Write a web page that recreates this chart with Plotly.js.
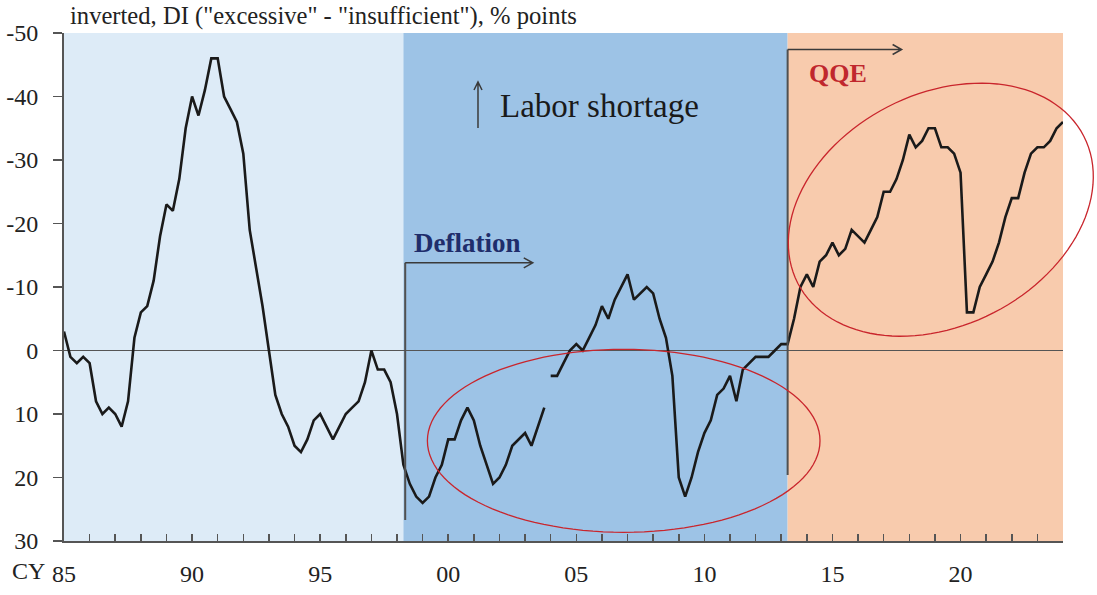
<!DOCTYPE html>
<html>
<head>
<meta charset="utf-8">
<script src="https://cdn.plot.ly/plotly-3.0.1.min.js"></script>
<style>
  body { margin: 0; background: #fff; }
  #plot { width: 1097px; height: 595px; }
</style>
</head>
<body>
<div id="plot"></div>
<script>
// Tankan employment conditions DI, quarterly, inverted axis
// old survey basis: 1985Q1 - 2003Q4
const oldStart = 1985;
const oldBasis = [
  -3, 1, 2, 1, 2, 8, 10, 9, 10, 12, 8, -2, -6, -7, -11, -18,
  -23, -22, -27, -35, -40, -37, -41, -46, -46, -40, -38, -36, -31, -19,
  -13, -7, 0, 7, 10, 12, 15, 16, 14, 11, 10, 12, 14, 12, 10, 9,
  8, 5, 0, 3, 3, 5, 10, 18, 21, 23, 24, 23, 20, 18, 14, 14,
  11, 9, 11, 15, 18, 21, 20, 18, 15, 14, 13, 15, 12, 9
];
// new survey basis: 2004Q1 - 2024Q1
const newStart = 2004;
const newBasis = [
  4, 4, 2, 0, -1, 0, -2, -4, -7, -5, -8, -10, -12, -8, -9, -10,
  -9, -5, -2, 4, 20, 23, 20, 16, 13, 11, 7, 6, 4, 8, 3, 2,
  1, 1, 1, 0, -1, -1, -5, -10, -12, -10, -14, -15, -17, -15, -16, -19,
  -18, -17, -19, -21, -25, -25, -27, -30, -34, -32, -33, -35, -35, -32, -32, -31,
  -28, -6, -6, -10, -12, -14, -17, -21, -24, -24, -28, -31, -32, -32, -33, -35,
  -36
];

const yTicks = [-50, -40, -30, -20, -10, 0, 10, 20, 30];
const yTickText = ['-50', '-40', '-30', '-20', '-10', '0', '10', '20', '30'];

const tickYears = [];
const tickText = [];
for (let yr = 1985; yr <= 2024; yr++) {
  tickYears.push(yr);
  tickText.push(yr % 5 === 0 && yr < 2024 ? String(yr).slice(2) : '');
}

// periods (1998Q2 deflation, 2013Q2 QQE)
const deflationStart = 1998.25;
const qqeStart = 2013.25;

function quarters(start, n) {
  const out = [];
  for (let i = 0; i < n; i++) out.push(start + i / 4);
  return out;
}

// plot box in pixels, used for the hand-drawn arrows and ellipses
const L = 64, T = 33, W = 999, H = 508;
const X0 = 1985, X1 = 2024, Y0 = -50, Y1 = 30;
const xpx = yr => L + (yr - X0) / (X1 - X0) * W;
const ypx = v => T + (v - Y0) / (Y1 - Y0) * H;
const pap = (px, py) => [(px - L) / W, (T + H - py) / H];

function pathOf(pts, close) {
  return pts.map((p, i) => {
    const q = pap(p[0], p[1]);
    return (i ? 'L' : 'M') + q[0].toFixed(5) + ',' + q[1].toFixed(5);
  }).join(' ') + (close ? ' Z' : '');
}

function ellipse(cx, cy, a, b, deg) {
  const th = deg * Math.PI / 180, pts = [];
  for (let k = 0; k < 120; k++) {
    const t = k / 120 * 2 * Math.PI;
    pts.push([cx + a * Math.cos(th) * Math.cos(t) - b * Math.sin(th) * Math.sin(t),
              cy - (a * Math.sin(th) * Math.cos(t) + b * Math.cos(th) * Math.sin(t))]);
  }
  return pathOf(pts, true);
}

function hArrow(x0, x1, y) {
  return pathOf([[x0, y], [x1, y]]) + ' ' + pathOf([[x1 - 9, y - 5], [x1, y], [x1 - 9, y + 5]]);
}

const serif = 'Liberation Serif, Times New Roman, serif';
const lineShape = { type: 'path', xref: 'paper', yref: 'paper', line: { color: '#3a3a3a', width: 1.5 } };

const trace1 = {
  x: quarters(oldStart, oldBasis.length),
  y: oldBasis,
  type: 'scatter',
  mode: 'lines',
  line: { color: '#1a1a1a', width: 2.6 },
  hoverinfo: 'x+y'
};

const trace2 = {
  x: quarters(newStart, newBasis.length),
  y: newBasis,
  type: 'scatter',
  mode: 'lines',
  line: { color: '#1a1a1a', width: 2.6 },
  hoverinfo: 'x+y'
};

const dx = xpx(deflationStart + 0.07), qx = xpx(qqeStart);

const layout = {
  width: 1097,
  height: 595,
  margin: { l: L, r: 1097 - L - W, t: T, b: 595 - T - H },
  paper_bgcolor: '#fff',
  plot_bgcolor: '#fff',
  showlegend: false,
  font: { family: serif, color: '#222' },
  title: {
    text: 'inverted, DI ("excessive" - "insufficient"), % points',
    font: { family: serif, size: 24.6, color: '#222' },
    xref: 'container', yref: 'container',
    x: 70 / 1097, xanchor: 'left',
    y: 1 - 15 / 595, yanchor: 'middle'
  },
  xaxis: {
    range: [X0, X1],
    tickmode: 'array',
    tickvals: tickYears,
    ticktext: tickText,
    ticks: 'inside',
    ticklen: 7,
    tickwidth: 1.5,
    tickcolor: '#555',
    showline: true,
    linecolor: '#555',
    linewidth: 2,
    showgrid: false,
    zeroline: false,
    ticklabelstandoff: 10,
    tickfont: { family: serif, size: 24, color: '#222' }
  },
  yaxis: {
    range: [Y1, Y0],
    tickmode: 'array',
    tickvals: yTicks,
    ticktext: yTickText,
    ticks: 'outside',
    ticklen: 9,
    tickwidth: 1.5,
    tickcolor: '#555',
    showline: true,
    linecolor: '#555',
    linewidth: 2,
    showgrid: false,
    zeroline: true,
    zerolinecolor: '#555',
    zerolinewidth: 1.5,
    ticklabelstandoff: 10,
    tickfont: { family: serif, size: 24, color: '#222' }
  },
  shapes: [
    { type: 'rect', layer: 'below', xref: 'x', yref: 'paper', x0: X0, x1: deflationStart, y0: 0, y1: 1,
      fillcolor: '#DDEBF7', line: { width: 0 } },
    { type: 'rect', layer: 'below', xref: 'x', yref: 'paper', x0: deflationStart, x1: qqeStart, y0: 0, y1: 1,
      fillcolor: '#9DC3E6', line: { width: 0 } },
    { type: 'rect', layer: 'below', xref: 'x', yref: 'paper', x0: qqeStart, x1: X1, y0: 0, y1: 1,
      fillcolor: '#F8CBAD', line: { width: 0 } },
    // period markers
    { type: 'path', xref: 'paper', yref: 'paper', line: { color: '#505050', width: 2 },
      path: pathOf([[dx, ypx(-13.8)], [dx, ypx(26.7)]]) },
    { type: 'path', xref: 'paper', yref: 'paper', line: { color: '#505050', width: 2 },
      path: pathOf([[qx, ypx(-47.4)], [qx, ypx(19.6)]]) },
    Object.assign({ path: hArrow(dx, xpx(2003.3), ypx(-13.8)) }, lineShape),
    Object.assign({ path: hArrow(qx, xpx(2017.7), ypx(-47.4)) }, lineShape),
    Object.assign({ path: pathOf([[478, 128], [478, 82]]) + ' ' + pathOf([[474, 90], [478, 82], [482, 90]]) }, lineShape),
    // highlight ellipses
    { type: 'path', xref: 'paper', yref: 'paper', line: { color: '#C9252C', width: 1.3 },
      path: ellipse(623.7, 440.8, 196.3, 91.5, 0) },
    { type: 'path', xref: 'paper', yref: 'paper', line: { color: '#C9252C', width: 1.3 },
      path: ellipse(940.8, 209.7, 160.8, 115.8, 27.2) }
  ],
  annotations: [
    { xref: 'paper', yref: 'paper', x: pap(28, 0)[0], y: pap(0, 571)[1], text: 'CY',
      showarrow: false, xanchor: 'center', yanchor: 'middle',
      font: { family: serif, size: 24, color: '#222' } },
    { xref: 'paper', yref: 'paper', x: pap(498, 0)[0], y: pap(0, 106)[1], text: 'Labor shortage',
      showarrow: false, xanchor: 'left', yanchor: 'middle',
      font: { family: serif, size: 33, color: '#1a1a1a' } },
    { xref: 'paper', yref: 'paper', x: pap(412, 0)[0], y: pap(0, 243)[1], text: '<b>Deflation</b>',
      showarrow: false, xanchor: 'left', yanchor: 'middle',
      font: { family: serif, size: 27, color: '#1F2D6B' } },
    { xref: 'paper', yref: 'paper', x: pap(807, 0)[0], y: pap(0, 74)[1], text: '<b>QQE</b>',
      showarrow: false, xanchor: 'left', yanchor: 'middle',
      font: { family: serif, size: 26, color: '#C0272D' } }
  ]
};

Plotly.newPlot('plot', [trace1, trace2], layout, { displayModeBar: false, staticPlot: true });
</script>
</body>
</html>
